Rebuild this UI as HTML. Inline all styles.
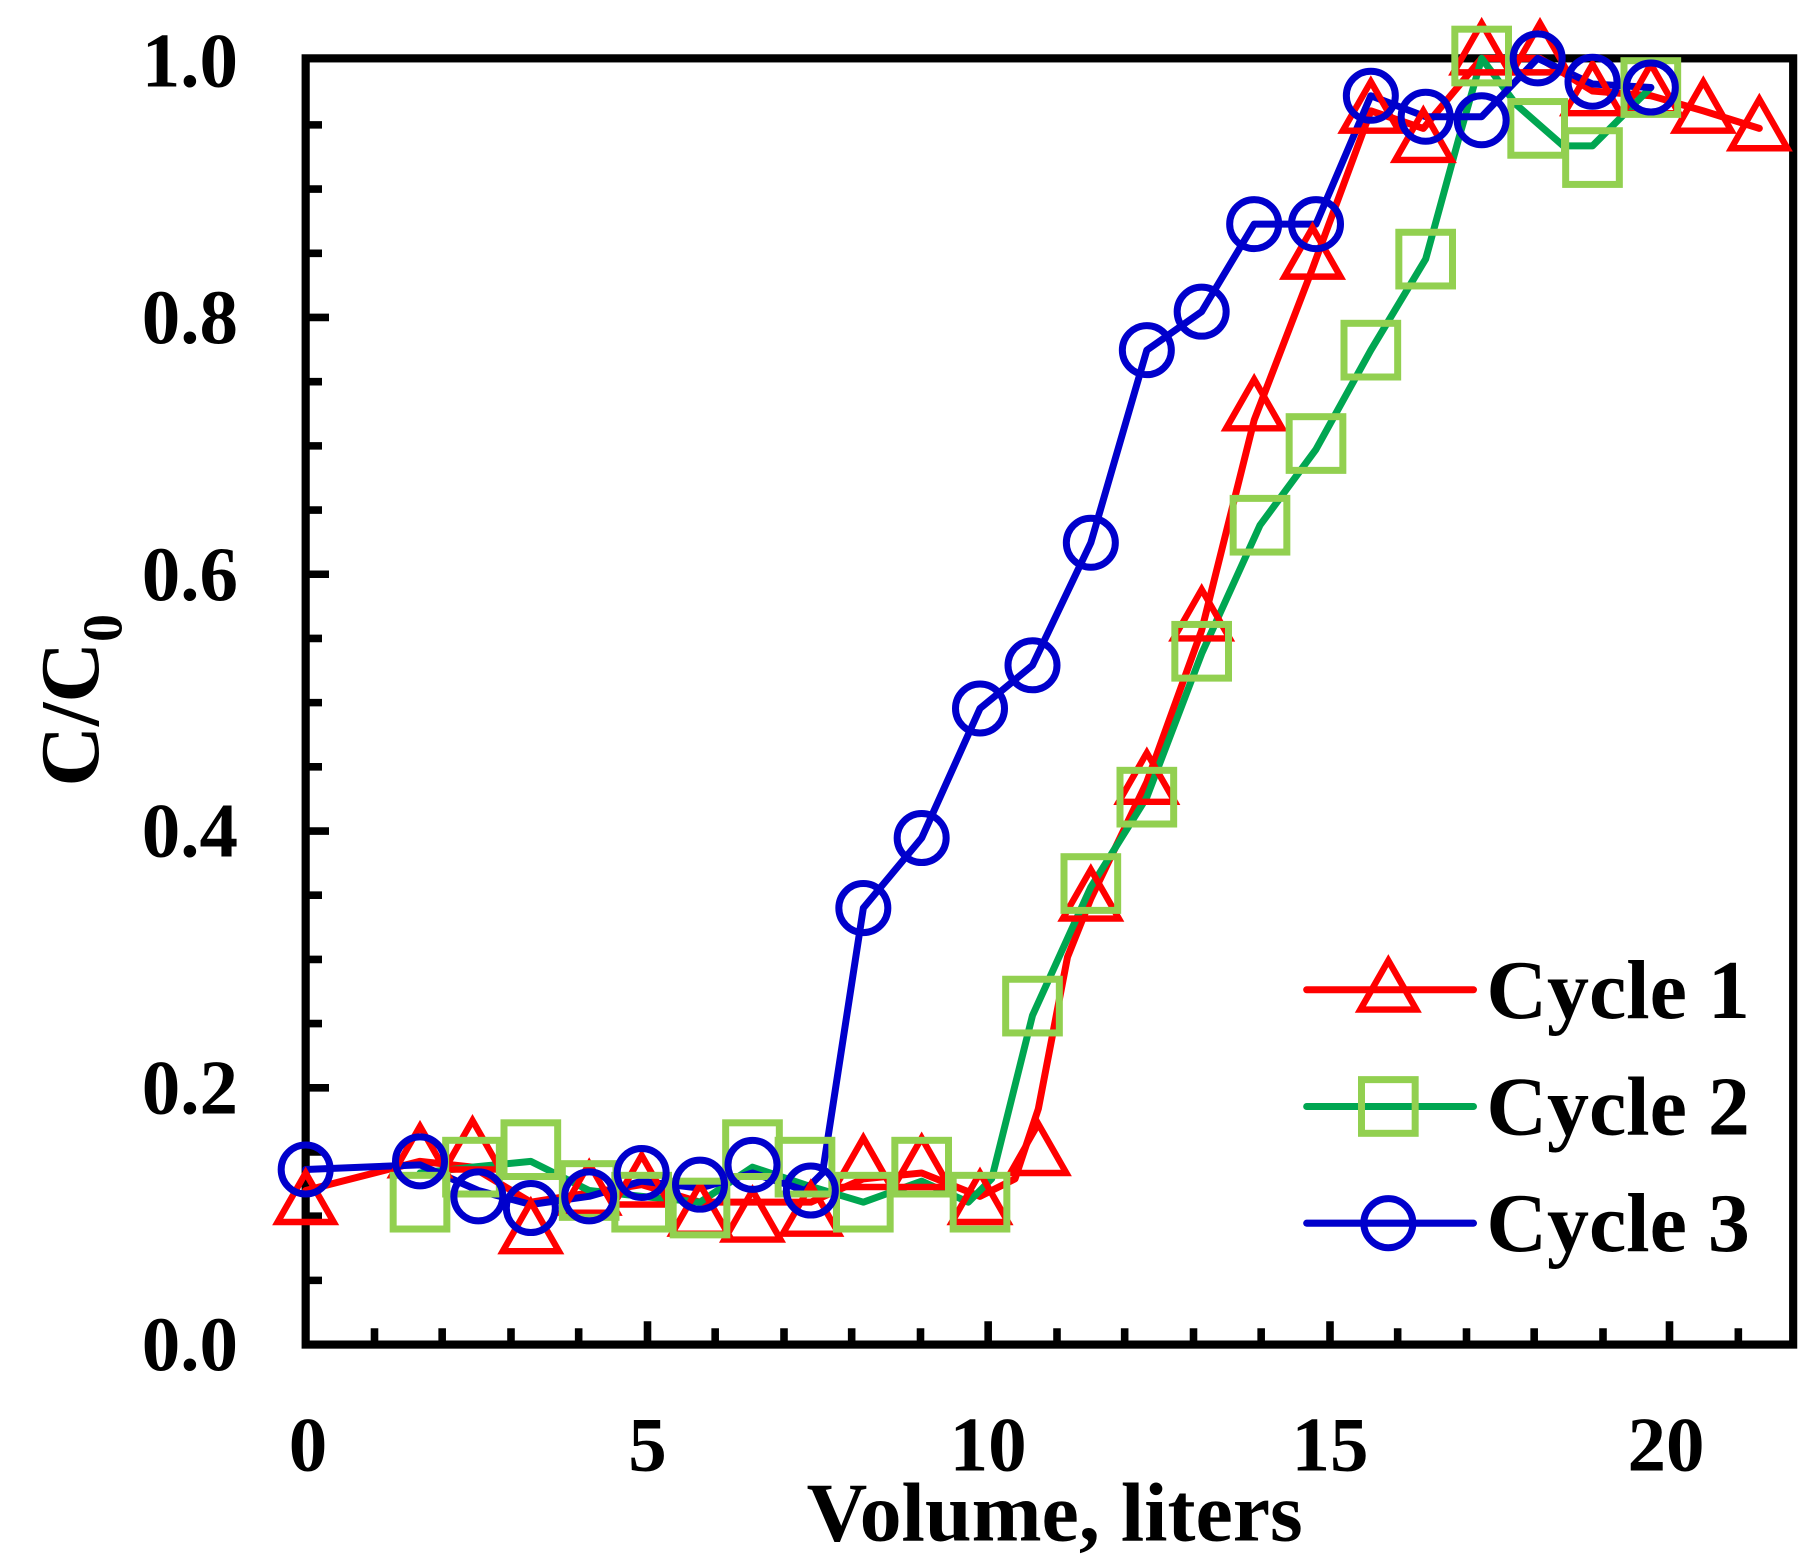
<!DOCTYPE html>
<html><head><meta charset="utf-8"><style>html,body{margin:0;padding:0;background:#fff}svg{display:block}</style></head>
<body>
<svg width="1820" height="1564" viewBox="0 0 1560 1340" preserveAspectRatio="none" xmlns="http://www.w3.org/2000/svg" font-family="Liberation Serif, serif" font-weight="bold">
<defs>
<path id="tri" d="M0,-25 L24,17 L-24,17 Z" fill="none" stroke="#ff0000" stroke-width="5.5" stroke-linejoin="miter"/>
<rect id="sq" x="-23" y="-23" width="46" height="46" fill="none" stroke="#92d050" stroke-width="6"/>
<circle id="ci" r="21" fill="none" stroke="#0000cc" stroke-width="6"/>
</defs>
<rect width="1560" height="1340" fill="#fff"/>
<g stroke="#000" stroke-width="6.5">
<path d="M262,1097h14M262,1042h14M262,987h14M262,877h14M262,822h14M262,767h14M262,657h14M262,602h14M262,547h14M262,437h14M262,382h14M262,327h14M262,217h14M262,162h14M262,107h14"/>
<path d="M262,932h20M262,712h20M262,492h20M262,272h20"/>
<path d="M321,1152v-14M379,1152v-14M438,1152v-14M496,1152v-14M613,1152v-14M672,1152v-14M730,1152v-14M789,1152v-14M906,1152v-14M964,1152v-14M1023,1152v-14M1081,1152v-14M1198,1152v-14M1257,1152v-14M1315,1152v-14M1374,1152v-14M1490,1152v-14"/>
<path d="M555,1152v-20M847,1152v-20M1140,1152v-20M1431,1152v-20"/>
</g>
<rect x="262" y="50" width="1275" height="1102" fill="none" stroke="#000" stroke-width="7"/>
<g fill="none" stroke-width="6" stroke-linejoin="round" stroke-linecap="round">
<polyline stroke="#ff0000" points="262,1020 360,995 405,1000 455,1030 505,1022 550,1015 600,1030 645,1030 695,1030 740,1010 790,1005 840,1025 870,1010 890,950 915,820 935,770 983,670 1030,540 1075,360 1125,230 1175,95 1220,110 1270,50 1320,50 1365,78 1415,82 1460,95 1508,110"/>
<polyline stroke="#00a651" points="360,1005 405,1000 455,995 505,1020 550,1025 600,1030 645,1000 690,1015 740,1030 790,1012 830,1030 850,1010 885,870 935,760 983,683 1030,560 1080,450 1128,385 1175,300 1222,222 1250,120 1270,50 1300,90 1340,125 1365,125 1415,75"/>
<polyline stroke="#0000cc" points="262,1002 360,998 410,1020 455,1032 505,1025 550,1012 600,1018 645,1005 690,1020 705,1005 740,778 790,718 840,607 885,570 935,465 983,300 1030,267 1075,192 1128,192 1175,82 1222,100 1270,100 1318,50 1365,72 1415,75"/>
</g>
<g>
<use href="#tri" x="262" y="1030"/><use href="#tri" x="360" y="990"/><use href="#tri" x="405" y="985"/><use href="#tri" x="455" y="1055"/><use href="#tri" x="505" y="1022"/><use href="#tri" x="550" y="1015"/><use href="#tri" x="600" y="1040"/><use href="#tri" x="645" y="1045"/><use href="#tri" x="695" y="1040"/><use href="#tri" x="740" y="1000"/><use href="#tri" x="790" y="1000"/><use href="#tri" x="840" y="1030"/><use href="#tri" x="890" y="988"/><use href="#tri" x="935" y="770"/><use href="#tri" x="983" y="670"/><use href="#tri" x="1030" y="530"/><use href="#tri" x="1075" y="350"/><use href="#tri" x="1125" y="220"/><use href="#tri" x="1175" y="95"/><use href="#tri" x="1220" y="120"/><use href="#tri" x="1270" y="45"/><use href="#tri" x="1320" y="45"/><use href="#tri" x="1365" y="80"/><use href="#tri" x="1415" y="80"/><use href="#tri" x="1460" y="95"/><use href="#tri" x="1508" y="110"/>
<use href="#sq" x="360" y="1030"/><use href="#sq" x="405" y="1000"/><use href="#sq" x="455" y="985"/><use href="#sq" x="505" y="1020"/><use href="#sq" x="550" y="1030"/><use href="#sq" x="600" y="1035"/><use href="#sq" x="645" y="985"/><use href="#sq" x="690" y="1000"/><use href="#sq" x="740" y="1030"/><use href="#sq" x="790" y="1000"/><use href="#sq" x="840" y="1030"/><use href="#sq" x="885" y="862"/><use href="#sq" x="935" y="757"/><use href="#sq" x="983" y="683"/><use href="#sq" x="1030" y="558"/><use href="#sq" x="1080" y="450"/><use href="#sq" x="1128" y="380"/><use href="#sq" x="1175" y="300"/><use href="#sq" x="1222" y="222"/><use href="#sq" x="1270" y="48"/><use href="#sq" x="1318" y="110"/><use href="#sq" x="1365" y="135"/><use href="#sq" x="1415" y="75"/>
<use href="#ci" x="262" y="1002"/><use href="#ci" x="360" y="995"/><use href="#ci" x="410" y="1025"/><use href="#ci" x="455" y="1035"/><use href="#ci" x="505" y="1025"/><use href="#ci" x="550" y="1005"/><use href="#ci" x="600" y="1015"/><use href="#ci" x="645" y="998"/><use href="#ci" x="695" y="1020"/><use href="#ci" x="740" y="778"/><use href="#ci" x="790" y="718"/><use href="#ci" x="840" y="607"/><use href="#ci" x="885" y="570"/><use href="#ci" x="935" y="465"/><use href="#ci" x="983" y="300"/><use href="#ci" x="1030" y="267"/><use href="#ci" x="1075" y="192"/><use href="#ci" x="1128" y="192"/><use href="#ci" x="1175" y="82"/><use href="#ci" x="1222" y="100"/><use href="#ci" x="1270" y="103"/><use href="#ci" x="1318" y="50"/><use href="#ci" x="1365" y="70"/><use href="#ci" x="1415" y="75"/>
</g>
<g stroke-width="6" stroke-linecap="round">
<line x1="1120" y1="848" x2="1263" y2="848" stroke="#ff0000"/>
<line x1="1120" y1="948" x2="1263" y2="948" stroke="#00a651"/>
<line x1="1120" y1="1048" x2="1263" y2="1048" stroke="#0000cc"/>
</g>
<use href="#tri" x="1190" y="848"/><use href="#sq" x="1190" y="948"/><use href="#ci" x="1190" y="1048"/>
<g font-size="72" fill="#000">
<text x="1274" y="872">Cycle 1</text>
<text x="1274" y="972">Cycle 2</text>
<text x="1274" y="1072">Cycle 3</text>
</g>
<g font-size="66" fill="#000" text-anchor="end">
<text x="204" y="1174">0.0</text>
<text x="204" y="954">0.2</text>
<text x="204" y="734">0.4</text>
<text x="204" y="514">0.6</text>
<text x="204" y="294">0.8</text>
<text x="204" y="74">1.0</text>
</g>
<g font-size="66" fill="#000" text-anchor="middle">
<text x="264" y="1260">0</text>
<text x="555" y="1260">5</text>
<text x="847" y="1260">10</text>
<text x="1140" y="1260">15</text>
<text x="1428" y="1260">20</text>
</g>
<text x="904" y="1320" font-size="72" text-anchor="middle">Volume, liters</text>
<text transform="translate(84,600) rotate(-90)" font-size="72" text-anchor="middle">C/C<tspan font-size="48" dy="20">0</tspan></text>
</svg>
</body></html>
